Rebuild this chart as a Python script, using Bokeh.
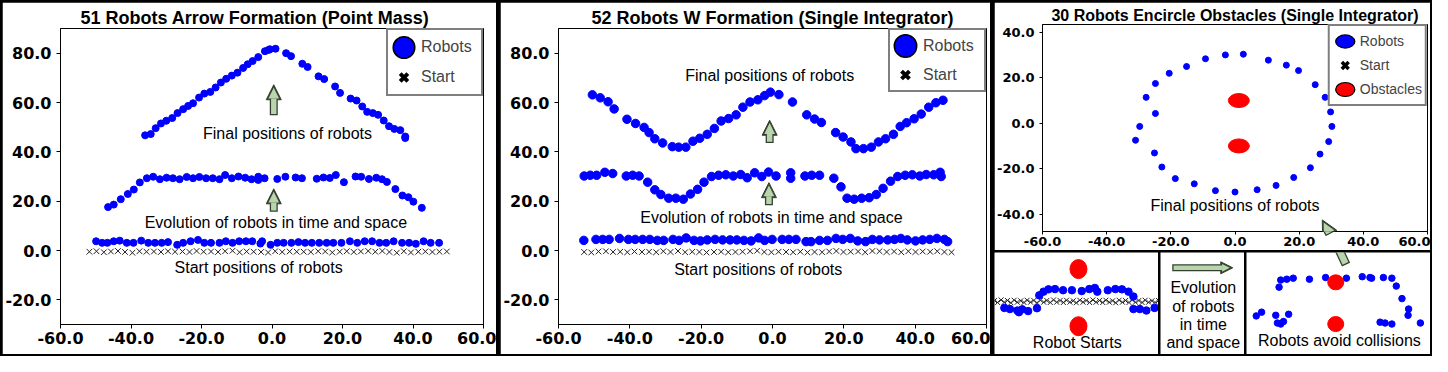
import numpy as np
from bokeh.plotting import figure
from bokeh.models import Range1d, FixedTicker, Legend, LegendItem, Label, Arrow, NormalHead
from bokeh.layouts import row, column
from bokeh.embed import file_html
from bokeh.resources import INLINE

BLUE = "#0000ff"
RED = "#ff0000"
DARK = "#34402f"
GREEN = "#b9d5ad"
TEXT_FONT = "Liberation Sans"
TICK_FONT = "DejaVu Sans"

# ---------------- data ----------------
x_ticks = [-60, -40, -20, 0, 20, 40, 60]
x_tick_labels = ["-60.0", "-40.0", "-20.0", "0.0", "20.0", "40.0", "60.0"]
y_ticks_12 = [-20, 0, 20, 40, 60, 80]
y_tick_labels_12 = ["-20.0", "0.0", "20.0", "40.0", "60.0", "80.0"]
y_ticks_3 = [-40, -20, 0, 20, 40]
y_tick_labels_3 = ["-40.0", "-20.0", "0.0", "20.0", "40.0"]

# Panel 1: 51 robots arrow formation
p1_final_x = [-36.0, -34.4, -33.0, -31.5, -30.0, -28.3, -26.8, -25.2, -23.8, -22.4,
              -20.7, -19.2, -17.5, -16.0, -14.5, -13.0, -11.4, -9.8, -8.2, -6.9,
              -5.5, -3.9, -2.0, -1.0, -0.6, 1.0, 4.0, 5.4, 8.6, 10.1,
              13.2, 14.8, 17.9, 19.3, 22.3, 24.0, 25.6, 27.0, 28.6, 30.1,
              31.7, 33.2, 34.7, 36.4, 37.8, 37.8]
p1_final_y = [46.7, 47.2, 49.6, 51.5, 52.6, 53.7, 55.7, 57.3, 58.6, 59.7,
              62.0, 63.6, 64.3, 66.1, 68.1, 69.6, 70.9, 72.1, 74.0, 75.5,
              76.8, 78.4, 80.8, 81.3, 81.6, 81.8, 80.0, 78.8, 75.7, 74.4,
              70.6, 69.5, 66.5, 63.9, 61.6, 60.8, 58.4, 56.2, 55.7, 55.0,
              52.7, 50.4, 49.3, 48.8, 46.2, 45.6]
p1_evol_x = [-46.5, -44.9, -42.9, -40.9, -39.2, -37.5, -35.5, -33.7, -31.8, -29.9,
             -28.1, -26.2, -24.2, -22.4, -20.6, -18.7, -16.8, -14.9, -13.3, -11.4,
             -9.5, -7.6, -5.8, -3.9, -3.9, -2.1, 1.5, 3.8, 6.7, 8.5,
             12.7, 14.6, 16.4, 18.1, 20.4, 23.7, 25.3, 27.5, 29.6, 31.2,
             32.6, 35.0, 37.0, 38.7, 40.1, 42.5]
p1_evol_y = [17.6, 18.6, 20.8, 22.9, 24.7, 27.6, 29.3, 29.9, 28.9, 29.5,
             29.3, 28.9, 29.8, 29.3, 29.8, 29.3, 29.3, 28.9, 30.6, 29.3,
             30.0, 29.5, 28.9, 29.9, 28.6, 29.3, 29.0, 29.9, 29.6, 29.3,
             29.1, 29.6, 29.4, 30.6, 27.7, 30.0, 29.9, 29.0, 29.5, 28.9,
             27.8, 24.9, 22.3, 21.6, 19.8, 17.3]
p1_begin_x = [-49.9, -48.2, -46.7, -44.9, -43.2, -41.2, -39.3, -37.1, -35.1, -33.2,
              -31.3, -29.5, -26.9, -25.2, -23.1, -21.0, -19.2, -17.3, -14.9, -13.1,
              -11.2, -9.3, -7.4, -5.6, -2.8, -0.4, 1.5, 3.3, 5.5, 7.5,
              9.4, 11.3, 13.4, 15.5, 17.4, 19.7, 22.1, 24.2, 26.3, 28.4,
              30.5, 32.4, 34.5, 36.9, 38.9, 40.8, 43.0, 45.0, 47.4, -3.3]
p1_begin_y = [3.75, 3.1, 3.1, 3.75, 4.0, 3.1, 3.1, 4.0, 3.1, 3.1,
              3.1, 3.4, 2.3, 3.1, 3.75, 4.3, 3.1, 3.1, 3.1, 3.75,
              3.1, 3.75, 3.75, 3.75, 3.75, 2.3, 3.1, 3.1, 3.1, 3.4,
              3.1, 3.1, 3.1, 3.1, 3.1, 3.1, 3.75, 3.1, 3.75, 3.75,
              3.1, 3.1, 3.75, 3.1, 3.1, 2.7, 3.75, 3.1, 3.1, 2.8]
p1_start_x = [-51.8, -49.8, -47.7, -45.7, -43.7, -41.7, -39.6, -37.6, -35.6, -33.5,
              -31.5, -29.5, -27.5, -25.4, -23.4, -21.4, -19.4, -17.3, -15.3, -13.3,
              -11.2, -9.2, -7.2, -5.2, -3.1, -1.1, 0.9, 2.9, 5.0, 7.0,
              9.0, 11.0, 13.1, 15.1, 17.1, 19.2, 21.2, 23.2, 25.2, 27.3,
              29.3, 31.3, 33.3, 35.4, 37.4, 39.4, 41.5, 43.5, 45.5, 47.5, 49.6]
p1_start_y = [-0.5, -0.3, -0.7, -0.4, -0.2, -0.6, -0.9, -0.3, -0.5, -0.4,
              -0.6, -0.3, -0.5, -0.4, -0.6, -0.2, -0.5, -0.4, -0.6, -0.3,
              -0.1, -0.7, -0.4, -0.5, -0.6, -0.8, -0.3, -0.6, -0.4, -0.5,
              -0.5, -0.6, -0.3, -0.4, -0.8, -0.5, -0.3, -0.6, -0.4, -0.2,
              -0.5, -0.2, -0.6, -0.9, -0.3, -0.8, -0.5, -0.4, -0.6, -0.5, -0.4]

# Panel 2: 52 robots W formation
p2_final_x = [-50.5, -48.3, -46.1, -44.4, -40.8, -38.4, -36.0, -34.6, -33.0, -30.8,
              -28.1, -26.3, -24.3, -22.3, -20.4, -18.3, -16.3, -14.4, -12.3, -10.2,
              -8.3, -6.3, -4.1, -2.2, -0.6, 1.8, 5.6, 9.6, 11.8, 13.7,
              17.7, 19.8, 22.0, 23.4, 25.5, 27.7, 29.7, 31.7, 33.9, 35.8,
              37.6, 39.7, 41.7, 43.8, 45.8, 47.8]
p2_final_y = [63.1, 61.9, 60.3, 57.4, 53.2, 51.5, 49.9, 47.8, 45.3, 43.6,
              42.1, 41.9, 41.9, 44.3, 45.5, 47.1, 49.5, 52.5, 53.5, 55.0,
              58.1, 60.2, 61.1, 62.8, 64.2, 63.2, 60.2, 55.0, 53.3, 51.9,
              47.8, 46.0, 44.0, 41.3, 41.3, 41.9, 44.0, 45.3, 47.1, 50.3,
              51.8, 53.4, 55.3, 58.1, 59.9, 60.9]
p2_evol_x = [-52.8, -51.1, -49.3, -47.0, -44.8, -41.0, -39.2, -37.4, -35.0, -33.0,
             -31.3, -29.1, -27.1, -25.0, -23.0, -21.0, -19.2, -17.1, -15.1, -13.1,
             -11.0, -8.9, -7.1, -5.0, -3.0, -1.1, 1.0, 5.1, 5.1, 9.1,
             11.0, 13.2, 17.2, 19.2, 20.9, 22.9, 25.0, 27.1, 29.1, 31.0,
             33.1, 35.1, 37.2, 39.2, 41.3, 43.1, 45.2, 47.0, 47.3]
p2_evol_y = [30.2, 30.5, 30.5, 31.7, 31.2, 30.2, 30.5, 30.2, 27.7, 24.6,
             22.7, 21.2, 21.2, 20.8, 22.9, 24.8, 27.7, 30.0, 30.5, 30.7,
             30.2, 30.8, 29.5, 31.5, 30.0, 31.8, 30.2, 31.5, 29.3, 30.2,
             30.5, 30.5, 29.3, 25.8, 21.2, 20.8, 21.2, 21.4, 22.7, 25.2,
             28.1, 30.0, 30.5, 30.7, 30.2, 30.8, 30.7, 31.7, 30.0]
p2_begin_x = [-52.9, -49.5, -47.6, -45.8, -42.9, -40.4, -38.5, -36.4, -34.4, -32.3,
              -30.5, -27.9, -26.2, -24.2, -22.0, -20.2, -18.3, -16.1, -14.0, -11.9,
              -10.0, -8.0, -6.0, -3.9, -2.2, -0.1, 2.7, 4.6, 6.6, 9.4,
              10.8, 13.2, 15.4, 17.8, 19.7, 21.8, 23.9, 26.1, 28.0, 30.0,
              32.3, 34.2, 36.0, 37.8, 40.1, 42.1, 44.1, 46.1, 48.2, 49.1]
p2_begin_y = [4.1, 4.5, 4.5, 4.5, 4.9, 4.5, 4.5, 4.5, 4.5, 4.1,
              4.1, 4.5, 4.1, 5.1, 4.1, 3.9, 4.3, 4.5, 4.3, 4.3,
              4.3, 4.1, 3.9, 5.1, 4.1, 4.5, 4.5, 4.5, 4.5, 3.6,
              3.6, 4.1, 4.1, 4.9, 4.5, 4.9, 3.9, 3.6, 4.5, 4.3,
              4.3, 4.5, 4.9, 4.3, 3.9, 4.3, 4.5, 4.9, 4.5, 3.6]
p2_start_x = [-52.8, -50.8, -48.8, -46.7, -44.7, -42.7, -40.7, -38.7, -36.6, -34.6,
              -32.6, -30.6, -28.6, -26.5, -24.5, -22.5, -20.5, -18.5, -16.4, -14.4,
              -12.4, -10.4, -8.4, -6.3, -4.3, -2.3, -0.3, 1.7, 3.8, 5.8,
              7.8, 9.8, 11.8, 13.9, 15.9, 17.9, 19.9, 21.9, 24.0, 26.0,
              28.0, 30.0, 32.0, 34.1, 36.1, 38.1, 40.1, 42.1, 44.2, 46.2, 48.2, 50.2]
p2_start_y = [-0.6, -0.8, -0.4, -0.3, -0.6, -0.5, -0.7, -0.4, -0.6, -0.5,
              -0.7, -0.3, -0.6, -0.2, -0.7, -0.5, -0.6, -0.8, -0.6, -0.5,
              -0.7, -0.6, -0.5, -0.3, -0.1, -0.6, -0.7, -0.5, -0.6, -0.7,
              -0.5, -0.8, -0.6, -0.7, -0.4, -0.2, -0.6, -0.5, -0.4, -0.7,
              -0.2, -0.3, -0.6, -0.4, -0.7, -0.3, -0.6, -0.4, -0.5, -0.3, -0.6, -0.7]

# Panel 3: 30 robots encircle obstacles
p3_final_x = [2.6, -3.0, -9.2, -15.1, -20.5, -24.8, -27.7, -24.8, -29.7, -31.0,
              -25.1, -22.8, -18.6, -12.7, -6.1, 0.0, 6.9, 12.8, 18.3, 23.5,
              26.5, 29.2, 30.2, 29.8, 28.1, 25.0, 19.8, 16.0, 10.4]
p3_final_y = [30.4, 30.1, 28.4, 25.0, 22.0, 17.5, 11.4, 4.3, -1.4, -7.5,
              -13.1, -19.3, -24.4, -26.7, -29.7, -30.3, -29.3, -27.4, -23.9, -19.6,
              -13.6, -8.1, -1.4, 5.0, 11.4, 17.0, 23.2, 25.6, 27.8]
obstacle_x = [1.2, 1.2]
obstacle_y = [10.0, -10.0]

# Inset "Robot Starts"
inset_a_robot_x = [-44.0, -40.6, -36.1, -35.1, -33.1, -29.5, -24.1, -22.7, -20.1, -17.1,
                   -13.1, -8.2, -2.8, 3.2, 7.8, 11.2, 12.7, 19.1, 23.7, 27.7,
                   31.7, 34.7, 34.7, 38.6, 42.6, 47.6]
inset_a_robot_y = [-3.6, -4.0, -4.5, -5.1, -4.1, -4.7, -3.7, 0.8, 2.1, 2.9,
                   3.0, 2.6, 2.6, 2.3, 3.0, 3.4, 2.1, 2.6, 3.0, 2.9,
                   2.1, 0.4, -4.0, -4.0, -4.5, -3.6]
inset_a_start_x = [-50.0, -48.1, -46.0, -44.0, -42.1, -40.0, -38.0, -36.1, -34.0, -32.0,
                   -30.1, -28.0, -26.0, -24.1, -22.0, -20.0, -18.1, -16.0, -14.0, -12.1,
                   -10.0, -8.0, -6.1, -4.0, -2.0, -0.1, 2.0, 4.0, 5.9, 8.0,
                   10.0, 11.9, 14.0, 16.0, 17.9, 20.0, 22.0, 23.9, 26.0, 28.0,
                   29.9, 32.0, 34.0, 35.9, 38.0, 40.0, 41.9, 44.0, 46.0, 47.9, 50.0]
inset_a_start_y = [-1.0, -1.7, -0.8, -1.6, -1.0, -1.8, -0.9, -1.6, -1.1, -1.7,
                   -0.9, -1.6, -1.0, -1.8, -0.9, -1.6, -1.0, -1.7, -0.8, -1.6,
                   -1.0, -1.7, -0.9, -1.6, -1.1, -1.8, -0.9, -1.6, -1.0, -1.7,
                   -0.8, -1.6, -1.0, -1.7, -0.9, -1.6, -1.1, -1.8, -0.9, -1.6,
                   -1.0, -1.7, -0.8, -1.6, -1.0, -1.7, -0.9, -1.6, -1.1, -1.7, -1.0]
# Inset "Robots avoid collisions"
inset_c_robot_x = [-29.6, -28.7, -25.4, -21.9, -13.1, -4.3, 7.0, 15.6, 19.8, 20.7,
                   27.1, 31.7, 34.1, 37.2, 40.8, 40.5, 47.2, -42.0, -39.1, -31.4,
                   -30.5, -28.7, -27.2, -24.4, 25.3, 28.0, 31.7]
inset_c_robot_y = [7.7, 11.1, 11.5, 12.0, 11.5, 12.3, 12.0, 12.7, 12.3, 12.0,
                   12.3, 12.0, 8.2, 2.2, -2.8, -5.8, -9.5, -6.1, -4.3, -5.8,
                   -9.5, -10.0, -8.8, -5.3, -9.1, -9.5, -10.0]

NAN1 = np.array([np.nan])


# ---------------- helpers ----------------
def make_axes_fig(w, h, xr, yr, borders, title, title_size, tick_size, yticks, ylabels,
                  tick_out=4, standoff_x=3, standoff_y=5):
    left, right, top, bottom = borders
    p = figure(width=w, height=h, x_range=Range1d(*xr), y_range=Range1d(*yr),
               output_backend="svg", toolbar_location=None,
               min_border_left=left, min_border_right=right,
               min_border_top=top, min_border_bottom=bottom)
    p.grid.visible = False
    p.outline_line_color = "black"
    p.outline_line_width = 1
    p.background_fill_color = "white"
    p.border_fill_color = "white"
    p.xaxis.ticker = FixedTicker(ticks=x_ticks)
    p.xaxis.major_label_overrides = dict(zip(x_ticks, x_tick_labels))
    p.yaxis.ticker = FixedTicker(ticks=yticks)
    p.yaxis.major_label_overrides = dict(zip(yticks, ylabels))
    for ax in p.axis:
        ax.major_label_text_font = TICK_FONT
        ax.major_label_text_font_style = "bold"
        ax.major_label_text_font_size = tick_size
        ax.major_label_text_color = "black"
        ax.major_tick_out = tick_out
        ax.major_tick_in = 0
        ax.minor_tick_out = 0
        ax.minor_tick_in = 0
        ax.axis_line_color = "black"
        ax.major_tick_line_color = "black"
    p.xaxis.major_label_standoff = standoff_x
    p.yaxis.major_label_standoff = standoff_y
    p.title.text = title
    p.title.text_font = TEXT_FONT
    p.title.text_font_style = "bold"
    p.title.text_font_size = title_size
    p.title.text_color = "black"
    p.title.align = "center"
    p.title.standoff = 2
    return p


def make_inset(w, h, xr, yr):
    p = figure(width=w, height=h, x_range=Range1d(*xr), y_range=Range1d(*yr),
               output_backend="svg", toolbar_location=None,
               x_axis_type=None, y_axis_type=None, min_border=0)
    p.outline_line_color = None
    p.background_fill_color = "white"
    p.border_fill_color = "white"
    return p


def block_arrow(p, x0, y0, x1, y1, shaft, head, upx, upy, edge=1.3, with_head=True):
    dxp = (x1 - x0) / upx
    dyp = (y1 - y0) / upy
    L = (dxp ** 2 + dyp ** 2) ** 0.5
    ux, uy = dxp / L, dyp / L
    tip_back = edge / 0.447 if with_head else 0.0
    outer_head = NormalHead(size=head, fill_color=DARK, line_color=DARK, line_width=1) if with_head else None
    inner_head = NormalHead(size=head - tip_back - edge, fill_color=GREEN, line_color=None) if with_head else None
    p.add_layout(Arrow(x_start=x0, y_start=y0, x_end=x1, y_end=y1,
                       line_color=DARK, line_width=shaft, end=outer_head))
    p.add_layout(Arrow(x_start=x0 + ux * edge * upx, y_start=y0 + uy * edge * upy,
                       x_end=x1 - ux * tip_back * upx, y_end=y1 - uy * tip_back * upy,
                       line_color=GREEN, line_width=shaft - 2 * edge, end=inner_head))


def text(p, x, y, s, size="16px", align="center"):
    p.add_layout(Label(x=x, y=y, text=s, text_align=align, text_baseline="middle",
                       text_font=TEXT_FONT, text_font_size=size, text_color="black"))


def legend(p, items, gw, gh, spacing, padding, standoff, font_size, label_width):
    leg = Legend(items=items, location="top_right", glyph_width=gw, glyph_height=gh,
                 spacing=spacing, padding=padding, margin=0, label_standoff=standoff,
                 label_text_font=TEXT_FONT, label_text_font_size=font_size,
                 label_width=label_width, label_height=18,
                 border_line_color="black", border_line_width=2,
                 background_fill_color="white", background_fill_alpha=1.0)
    p.add_layout(leg)


# ---------------- panel 1 ----------------
W1, H1 = 494, 352
B1 = (56, 13, 26, 30)
p1 = make_axes_fig(W1, H1, (-60, 60), (-30, 90), B1,
                   "51 Robots Arrow Formation (Point Mass)", "18px", "16px",
                   y_ticks_12, y_tick_labels_12)
p1.title.align = "left"
p1.title.offset = 20
p1.scatter(p1_start_x, p1_start_y, marker="x", size=8, line_color="#222222", line_width=1)
p1.scatter(p1_begin_x, p1_begin_y, size=7, color=BLUE)
p1.scatter(p1_evol_x, p1_evol_y, size=7, color=BLUE)
p1.scatter(p1_final_x, p1_final_y, size=7, color=BLUE)
upx1 = 120 / (W1 - B1[0] - B1[1])
upy1 = 120 / (H1 - B1[2] - B1[3])
block_arrow(p1, 0.5, 54.8, 0.5, 67.2, 8, 15, upx1, upy1)
block_arrow(p1, 0.5, 15.7, 0.5, 25.0, 8, 15, upx1, upy1)
text(p1, 4.4, 47.5, "Final positions of robots")
text(p1, 1.1, 11.5, "Evolution of robots in time and space")
text(p1, -3.8, -6.7, "Start positions of robots")
l1r = p1.ellipse(NAN1, NAN1, width=22, height=22, width_units="screen", height_units="screen",
                 fill_color=BLUE, line_color="black", line_width=1.5)
l1s = p1.scatter(NAN1, NAN1, marker="x", size=10, line_color="black", line_width=4)
legend(p1, [LegendItem(label="Robots", renderers=[l1r]), LegendItem(label="Start", renderers=[l1s])],
       27, 30, 0, 2, 4, "16px", 58)

# ---------------- panel 2 ----------------
W2, H2 = 490, 352
B2 = (53, 4, 23, 26)
p2 = make_axes_fig(W2, H2, (-60, 60), (-30, 90), B2,
                   "52 Robots W Formation (Single Integrator)", "18px", "16px",
                   y_ticks_12, y_tick_labels_12)
p2.scatter(p2_start_x, p2_start_y, marker="x", size=8, line_color="#222222", line_width=1)
p2.scatter(p2_begin_x, p2_begin_y, size=8.5, color=BLUE)
p2.scatter(p2_evol_x, p2_evol_y, size=8.5, color=BLUE)
p2.scatter(p2_final_x, p2_final_y, size=8.5, color=BLUE)
upx2 = 120 / (W2 - B2[0] - B2[1])
upy2 = 120 / (H2 - B2[2] - B2[3])
block_arrow(p2, -0.8, 43.6, -0.8, 52.8, 8, 15, upx2, upy2)
block_arrow(p2, -1.0, 18.3, -1.0, 27.5, 8, 15, upx2, upy2)
text(p2, -0.8, 71.0, "Final positions of robots")
text(p2, -0.3, 13.5, "Evolution of robots in time and space")
text(p2, -4.0, -7.5, "Start positions of robots")
l2r = p2.ellipse(NAN1, NAN1, width=22, height=22, width_units="screen", height_units="screen",
                 fill_color=BLUE, line_color="black", line_width=1.5)
l2s = p2.scatter(NAN1, NAN1, marker="x", size=10, line_color="black", line_width=4)
legend(p2, [LegendItem(label="Robots", renderers=[l2r]), LegendItem(label="Start", renderers=[l2s])],
       28, 29, 0, 1, 4, "16px", 60)

# ---------------- panel 3 (top) ----------------
W3, H3 = 436, 248
B3 = (47, 3, 22, 19)
p3 = make_axes_fig(W3, H3, (-60, 60), (-47.7, 43.5), B3,
                   "30 Robots Encircle Obstacles (Single Integrator)", "16px", "13px",
                   y_ticks_3, y_tick_labels_3, tick_out=3, standoff_x=2, standoff_y=5)
p3.scatter(p3_final_x, p3_final_y, size=6, color=BLUE)
p3.ellipse(obstacle_x, obstacle_y, width=21, height=14, width_units="screen", height_units="screen",
           fill_color=RED, line_color=RED)
text(p3, 0.0, -36.4, "Final positions of robots")
upx3 = 120 / (W3 - B3[0] - B3[1])
upy3 = 91.2 / (H3 - B3[2] - B3[3])
block_arrow(p3, 32.4, -56.5, 27.2, -42.6, 9, 16, upx3, upy3)
l3r = p3.ellipse(NAN1, NAN1, width=22, height=15, width_units="screen", height_units="screen",
                 fill_color=BLUE, line_color="black", line_width=1.2)
l3s = p3.scatter(NAN1, NAN1, marker="x", size=10, line_color="black", line_width=3.5)
l3o = p3.ellipse(NAN1, NAN1, width=22, height=16, width_units="screen", height_units="screen",
                 fill_color=RED, line_color="black", line_width=1.2)
legend(p3, [LegendItem(label="Robots", renderers=[l3r]), LegendItem(label="Start", renderers=[l3s]),
            LegendItem(label="Obstacles", renderers=[l3o])],
       24, 24, -2, 3, 3, "14px", 20)

# ---------------- insets ----------------
HB = 102
pa = make_inset(164, HB, (-50, 50), (-19.9, 15.8))
pa.scatter(inset_a_start_x, inset_a_start_y, marker="x", size=7, line_color="#222222", line_width=1)
pa.scatter(inset_a_robot_x, inset_a_robot_y, size=7.5, color=BLUE)
pa.ellipse(obstacle_x, obstacle_y, width=17, height=19, width_units="screen", height_units="screen",
           fill_color=RED, line_color=RED)
text(pa, 0.5, -15.6, "Robot Starts")

pb = make_inset(84, HB, (0, 1), (0, 1))
block_arrow(pb, 0.14, 0.85, 0.86, 0.85, 7, 12, 1 / 84, 1 / HB)
text(pb, 0.51, 0.655, "Evolution")
text(pb, 0.51, 0.475, "of robots")
text(pb, 0.51, 0.29, "in time")
text(pb, 0.51, 0.115, "and space")

pc = make_inset(184, HB, (-47.3, 52.7), (-24.6, 24.3))
pc.scatter(inset_c_robot_x, inset_c_robot_y, size=6.5, color=BLUE)
pc.ellipse(obstacle_x, obstacle_y, width=16, height=15, width_units="screen", height_units="screen",
           fill_color=RED, line_color=RED)
text(pc, 3.2, -17.8, "Robots avoid collisions")
block_arrow(pc, 6.8, 18.5, 2.0, 27.5, 9, 16, 100 / 184, 48.9 / HB, with_head=False)

bottom_row = row(pa, pb, pc, spacing=2)
right_col = column(p3, bottom_row, spacing=2)
root = row(p1, p2, right_col, spacing=4,
           styles={"background-color": "black", "padding": "2px"})

with open("out.html", "w") as f:
    f.write(file_html(root, INLINE))
